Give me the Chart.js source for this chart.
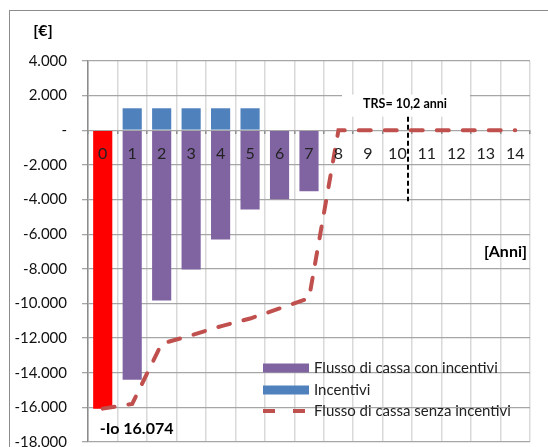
<!DOCTYPE html>
<html lang="it">
<head>
    <meta charset="UTF-8">
    <title>Flusso di cassa</title>
    <script src="https://cdn.jsdelivr.net/npm/chart.js"></script>
    <style>
        body {
            margin: 0;
            background: #ffffff;
        }
        #wrap {
            position: relative;
            width: 548px;
            height: 447px;
            overflow: hidden;
        }
        #frame {
            position: absolute;
            left: 9px;
            top: 10px;
            width: 600px;
            height: 500px;
            border: 1.5px solid #8c8c8c;
        }
        #graficoFlusso {
            position: absolute;
            left: 0;
            top: 0;
        }
    </style>
</head>
<body>
    <div id="wrap">
        <div id="frame"></div>
        <canvas id="graficoFlusso" width="548" height="447"></canvas>
    </div>
    <script>
        // dati
        const anni = ['0', '1', '2', '3', '4', '5', '6', '7', '8', '9', '10', '11', '12', '13', '14'];
        const flussoConIncentivi = [-16074, -14400, -9830, -8040, -6300, -4570, -3990, -3520, null, null, null, null, null, null, null];
        const incentivi = [null, 1270, 1270, 1270, 1270, 1270, null, null, null, null, null, null, null, null, null];
        const flussoSenzaIncentivi = [-16074, -15800, -12320, -11840, -11320, -10870, -10290, -9700, 0, 0, 0, 0, 0, 0, 0];
        const investimento = -16074;
        const trsAnni = 10.2;
        const trsPosizione = 10.36; // dove sta la linea nera sull'asse
        const trsFondo = -4100;

        const viola = '#8064A2';
        const blu = '#4F81BD';
        const rosso = '#FF0000';
        const rossoLinea = '#C0504D';
        const font = 'Lato, "Open Sans", sans-serif';

        function formatta(v) {
            if (v === 0) return '-';
            const s = Math.abs(v).toString().replace(/\B(?=(\d{3})+(?!\d))/g, '.');
            return (v < 0 ? '-' : '') + s;
        }

        const testiPlugin = {
            id: 'testi',
            afterDraw(chart) {
                const ctx = chart.ctx;
                const area = chart.chartArea;
                const x = chart.scales.x;
                const y = chart.scales.y;
                ctx.save();

                // titoli assi
                ctx.fillStyle = '#000';
                ctx.font = 'bold 16px ' + font;
                ctx.textBaseline = 'middle';
                ctx.textAlign = 'center';
                ctx.fillText('[€]', 43, 31);
                ctx.textAlign = 'right';
                ctx.fillText('[Anni]', area.right - 3, y.getPixelForValue(-7000));

                // investimento iniziale
                const barra0 = chart.getDatasetMeta(0).data[0];
                ctx.textAlign = 'left';
                ctx.fillText('-Io ' + formatta(-investimento), barra0.x - 3, y.getPixelForValue(investimento) + 20);

                // TRS
                const xt = x.getPixelForValue(trsPosizione);
                ctx.fillStyle = '#fff';
                ctx.fillRect(xt - 66, y.getPixelForValue(2000) - 1, 128, 22);
                ctx.fillStyle = '#000';
                ctx.font = 'bold 12.5px ' + font;
                ctx.textAlign = 'center';
                ctx.fillText('TRS= ' + trsAnni.toString().replace('.', ',') + ' anni', xt - 3, y.getPixelForValue(2000) + 8);
                ctx.strokeStyle = '#000';
                ctx.lineWidth = 2;
                ctx.setLineDash([5, 3]);
                ctx.beginPath();
                ctx.moveTo(xt, y.getPixelForValue(2000) + 21);
                ctx.lineTo(xt, y.getPixelForValue(trsFondo));
                ctx.stroke();
                ctx.setLineDash([]);

                // legenda
                const voci = chart.data.datasets;
                const lx = 263;
                const ly = [368, 390, 411];
                ctx.font = '15px ' + font;
                ctx.textAlign = 'left';
                voci.forEach((d, i) => {
                    if (d.type === 'line') {
                        ctx.strokeStyle = d.borderColor;
                        ctx.lineWidth = 4;
                        ctx.lineCap = 'butt';
                        ctx.setLineDash([12, 18]);
                        ctx.beginPath();
                        ctx.moveTo(lx, ly[i]);
                        ctx.lineTo(lx + 46, ly[i]);
                        ctx.stroke();
                        ctx.setLineDash([]);
                    } else {
                        ctx.fillStyle = d.legendColor;
                        ctx.fillRect(lx, ly[i] - 4.5, 46, 9);
                    }
                    ctx.fillStyle = '#222';
                    ctx.fillText(d.label, lx + 51, ly[i]);
                });
                ctx.restore();
            }
        };

        const ctx = document.getElementById('graficoFlusso').getContext('2d');
        const grafico = new Chart(ctx, {
            type: 'bar',
            data: {
                labels: anni,
                datasets: [{
                    label: 'Flusso di cassa con incentivi',
                    data: flussoConIncentivi,
                    backgroundColor: flussoConIncentivi.map((v, i) => i === 0 ? rosso : viola),
                    legendColor: viola,
                    stack: 'barre',
                    order: 2
                },
                {
                    label: 'Incentivi',
                    data: incentivi,
                    backgroundColor: blu,
                    legendColor: blu,
                    stack: 'barre',
                    order: 2
                },
                {
                    type: 'line',
                    label: 'Flusso di cassa senza incentivi',
                    data: flussoSenzaIncentivi,
                    borderColor: rossoLinea,
                    borderWidth: 4,
                    borderDash: [12, 14],
                    borderCapStyle: 'round',
                    pointRadius: 0,
                    tension: 0,
                    stack: 'linea',
                    order: 1
                }]
            },
            options: {
                responsive: false,
                animation: false,
                devicePixelRatio: 1,
                layout: {
                    padding: { left: 0, right: 18, top: 61, bottom: 5 }
                },
                datasets: {
                    bar: {
                        barPercentage: 1,
                        categoryPercentage: 0.65
                    }
                },
                plugins: {
                    legend: { display: false },
                    tooltip: { enabled: false }
                },
                scales: {
                    x: {
                        position: { y: 0 },
                        stacked: true,
                        offset: true,
                        border: { display: false },
                        grid: {
                            offset: true,
                            color: '#d9d9d9',
                            lineWidth: 1.5,
                            tickLength: 4,
                            tickColor: '#8c8c8c'
                        },
                        ticks: {
                            z: 1,
                            autoSkip: false,
                            maxRotation: 0,
                            padding: 10,
                            color: '#222',
                            font: { family: font, size: 16 }
                        },
                        afterFit(scale) {
                            scale.paddingLeft = 0;
                            scale.paddingRight = 0;
                        }
                    },
                    y: {
                        stacked: true,
                        min: -18000,
                        max: 4000,
                        border: { color: '#8c8c8c', width: 1.5 },
                        grid: {
                            color: '#a6a6a6',
                            lineWidth: 1.3,
                            tickLength: 6
                        },
                        ticks: {
                            stepSize: 2000,
                            padding: 15,
                            color: '#111',
                            font: { family: font, size: 15 },
                            callback: v => formatta(v)
                        },
                        afterFit(scale) {
                            scale.width = 88;
                            scale.paddingTop = 0;
                            scale.paddingBottom = 0;
                        }
                    }
                }
            },
            plugins: [testiPlugin]
        });
    </script>
</body>
</html>
